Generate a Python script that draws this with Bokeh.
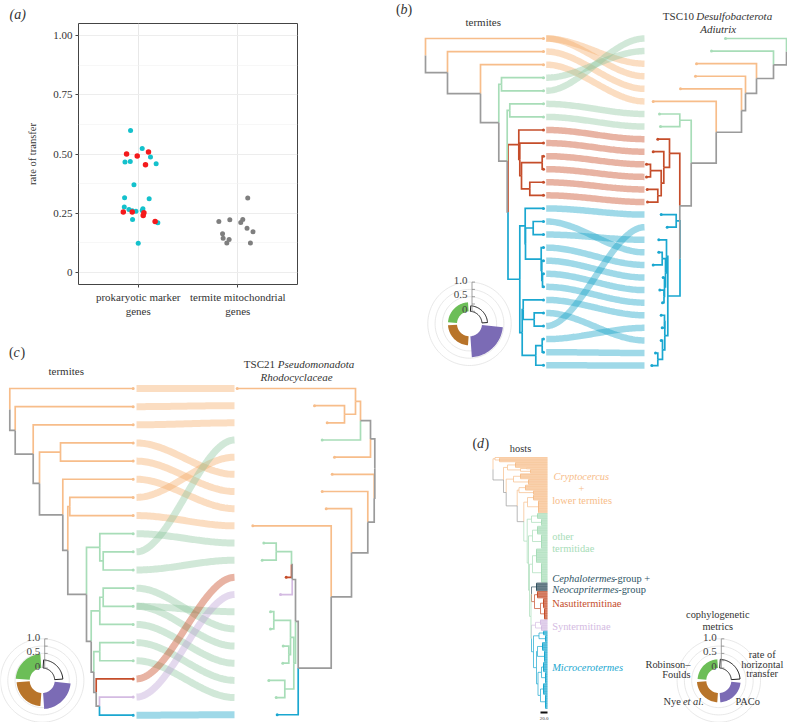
import numpy as np
from bokeh.plotting import figure
from bokeh.layouts import row, column
from bokeh.models import Range1d, FixedTicker, Title
from bokeh.core.properties import value
from bokeh.embed import file_html
from bokeh.resources import INLINE

SERIF = "Liberation Serif"
TREE = {"o": "#F7BD8A", "gr": "#A8DDB8", "r": "#C54D2A", "bl": "#1AA7D0", "g": "#9B9B9B", "p": "#D4BBE2", "dk": "#33505F"}
RIB = {"o": "#F5A964", "gr": "#8CC69D", "r": "#C54119", "bl": "#0FA0C5", "p": "#BBA0D4"}
TXT = "#333333"


def T(x, g):
    return {"x": x, "g": g, "kids": None}


def N(x, g, *kids):
    return {"x": x, "g": g, "kids": list(kids)}


def R(x, g, n, tip=547):
    return N(x, g, *[T(tip, g) for _ in range(2 * n)])


# ---- panel (a) values
genes = ["prokaryotic marker\ngenes", "termite mitochondrial\ngenes"]
cyan_x = [.923, 1.04, 1.123, .867, .92, 1.18, .957, .863, 1.11, .86, .907, .94, .977, 1.047, 1.04, .943, 1.197, 1.0]
cyan_y = [.599, .523, .487, .466, .468, .459, .370, .315, .311, .276, .266, .261, .258, .269, .262, .224, .210, .123]
red_x = [.883, .99, 1.103, 1.073, .85, .94, 1.057, 1.05, 1.17]
red_y = [.500, .492, .508, .455, .255, .255, .252, .241, .215]
grey_x = [2.1, 1.81, 1.92, 2.05, 2.03, 2.093, 2.153, 1.847, 1.853, 1.913, 1.89, 2.127]
grey_y = [.314, .215, .223, .224, .211, .187, .172, .163, .144, .139, .124, .124]

# ---- cophylogenetic metrics: rate, PACo, Nye, Robinson-Foulds
metrics_b = [0.19, 0.72, 0.31, 0.31]
metrics_c = [0.28, 0.55, 0.45, 0.48]
metrics_d = [0.30, 0.32, 0.32, 0.30]

# ---- panel (b) trees
TIP = 543
red_b = N(518.3, "r", T(TIP, "r"), N(519.3, "r", T(TIP, "r"), N(521, "r", N(541.7, "r", T(TIP, "r"), T(TIP, "r")), N(529.3, "r", T(TIP, "r"), T(TIP, "r")))))
blue_f = N(524.7, "bl", T(TIP, "bl"), N(525, "bl", N(532.7, "bl", T(TIP, "bl"), T(TIP, "bl")),
           N(540.7, "bl", T(TIP, "bl"), N(541.3, "bl", T(TIP, "bl"), N(542, "bl", T(TIP, "bl"), T(TIP, "bl"))))))
blue_g = N(521.7, "bl", N(522.7, "bl", T(TIP, "bl"), N(533.7, "bl", T(TIP, "bl"), T(TIP, "bl"))),
           N(535.3, "bl", N(541.7, "bl", T(TIP, "bl"), T(TIP, "bl")), T(TIP, "bl")))
b_core = N(507.5, "g", red_b, N(519.3, "bl", blue_f, blue_g))
b_mid = N(506.7, "g", N(509.3, "gr", T(TIP, "gr"), T(TIP, "gr")), b_core)
b_up = N(498.3, "g", N(501, "gr", T(TIP, "gr"), T(TIP, "gr")), b_mid)
b_left = N(425, "g", T(TIP, "o"), N(447, "g", T(TIP, "o"), N(480, "g", T(TIP, "o"), b_up)))

red_b2 = N(669, "r", T(657.3, "r"), N(663.3, "r", T(652.7, "r"), N(660.7, "r", N(650, "r", T(646, "r"), T(646, "r")), N(657.3, "r", T(646.7, "r"), T(647, "r")))))
blue_y = N(666, "bl", T(658.3, "bl"), N(665, "bl", N(661.7, "bl", T(658.3, "bl"), T(652.7, "bl")),
           N(664, "bl", T(662.7, "bl"), N(663.5, "bl", T(659.3, "bl"), T(662, "bl")))))
blue_z = N(664.3, "bl", N(664, "bl", T(660.7, "bl"), T(661.7, "bl")), N(662, "bl", T(660.7, "bl"), N(657.3, "bl", T(655, "bl"), T(651.3, "bl"))))
b_x = N(679.5, "g", N(675.7, "bl", T(660.7, "bl"), T(666.7, "bl")), N(667.3, "bl", blue_y, blue_z))
b_r1 = N(690.7, "g", N(679.3, "gr", T(659, "gr"), T(660, "gr")), N(679.3, "g", red_b2, b_x))
b_r2 = N(741, "g", T(680, "o"), N(715.7, "g", T(652.7, "o"), b_r1))
b_right = N(786, "g", T(725, "gr"), N(773, "g", T(711, "gr"), N(756, "g", T(696, "o"), N(745, "g", T(695, "o"), b_r2))))
b_links = [(0, 2), (0, 3), (1, 4), (2, 5), (3, 1), (4, 0), (5, 6), (6, 7), (7, 8), (8, 9), (9, 10), (10, 11), (11, 12), (12, 13),
           (13, 14), (14, 17), (15, 16), (16, 18), (17, 19), (18, 20), (19, 21), (20, 22), (21, 24), (22, 15), (23, 23), (24, 25), (25, 26)]

# ---- panel (c) trees
TC = 132.7
c_sub3 = N(93.3, "g", N(99.3, "gr", T(TC, "gr"), T(TC, "gr")), N(95.7, "g", T(TC, "r"), N(99, "g", T(TC, "p"), T(TC, "bl"))))
c_sub2 = N(90.7, "g", N(99.3, "gr", N(102.7, "gr", T(TC, "gr"), T(TC, "gr")), T(TC, "gr")), c_sub3)
c_sub1 = N(86, "g", N(99.3, "gr", T(TC, "gr"), N(102.7, "gr", T(TC, "gr"), T(TC, "gr"))), c_sub2)
c_sub0 = N(62.3, "g", T(TC, "o"), N(67.3, "g", N(69.3, "o", T(TC, "o"), T(TC, "o")), c_sub1))
c_left = N(9.3, "g", T(TC, "o"), N(14.7, "g", T(TC, "o"), N(32.7, "g", T(TC, "o"), N(39, "g", N(60, "o", T(TC, "o"), T(TC, "o")), c_sub0))))
c_upper = N(291.7, "g", N(291, "g", N(275.7, "gr", T(263.3, "gr"), T(261.7, "gr")), T(285.7, "r")), T(280, "p"))
c_green = N(293.3, "gr", N(290, "gr", N(273.3, "gr", T(270, "gr"), T(270, "gr")), N(288.3, "gr", T(282.7, "gr"), T(282.3, "gr"))),
            N(284.3, "gr", T(268.3, "gr"), T(275.7, "gr")))
c_lower = N(297.7, "g", N(295, "g", c_upper, c_green), T(276.7, "bl"))
c_top = N(370, "g", N(360, "g", N(355, "o", T(236.7, "o"), N(344, "o", T(314, "o"), T(326.7, "o"))), T(321.7, "gr")), T(334, "o"))
c_right = N(374.3, "g", c_top, N(373.7, "g", T(331.7, "o"), N(367.3, "g", T(321.7, "o"), N(351, "g", T(325.7, "o"), N(330.7, "g", T(252.3, "o"), c_lower)))))
c_links = [(0, 0), (1, 1), (2, 2), (3, 5), (4, 6), (5, 7), (6, 4), (7, 8), (9, 3), (8, 9), (10, 10), (11, 14), (12, 13), (12, 15),
           (13, 16), (14, 17), (15, 18), (16, 11), (17, 12), (18, 19)]

# ---- panel (d) host tree
d_o1 = N(494.5, "o", T(547, "o"), R(499, "o", 3))
d_o2 = N(507, "o", R(515, "o", 4), N(520, "o", R(526, "o", 1), R(530, "o", 3)))
d_o3 = N(513, "o", R(520, "o", 4), R(528, "o", 4))
d_o4 = N(518.5, "o", R(525, "o", 4), R(533, "o", 3))
d_o5 = N(527, "o", R(533, "o", 4), R(538, "o", 9))
d_g1 = N(531, "gr", R(537, "gr", 4), R(541, "gr", 5))
d_g2 = N(532, "gr", R(537, "gr", 6), R(541, "gr", 10))
d_g3 = N(532, "gr", R(536, "gr", 10), R(541, "gr", 14))
d_dr = N(531, "gr", R(536, "dk", 6), N(534, "r", R(537, "r", 5), N(540, "r", R(543, "r", 7), R(544, "r", 8))))
d_sy = N(535, "p", R(540, "p", 4), R(541, "p", 4))
d_bl = N(533, "bl", N(538.5, "bl", R(543, "bl", 3), R(545, "bl", 5)),
         N(536, "bl", N(537, "bl", R(542, "bl", 6), R(544, "bl", 8)),
           N(537.5, "bl", N(541, "bl", R(543, "bl", 7), R(545, "bl", 8)), N(540, "bl", R(543, "bl", 8), R(545, "bl", 10)))))
d_low = N(526.7, "gr", d_g1, N(528, "gr", d_g2, N(529, "gr", d_g3, N(530.5, "gr", d_dr, N(531, "gr", d_sy, d_bl)))))
d_tree = N(492.5, "g", d_o1, N(503, "g", d_o2, N(505.7, "g", d_o3, N(516.7, "g", d_o4, N(523.3, "g", d_o5, d_low)))))


def tree_lines(tree, y0, dy):
    xs, ys, cs, tips = [], [], [], []
    counter = [0]

    def walk(node):
        if node["kids"] is None:
            y = y0 + counter[0] * dy
            counter[0] += 1
            tips.append((node["x"], y, node["g"]))
            return y
        cy = [walk(k) for k in node["kids"]]
        y = (cy[0] + cy[-1]) / 2
        for k, c in zip(node["kids"], cy):
            xs.append([node["x"], node["x"], k["x"]])
            ys.append([y, c, c])
            cs.append(TREE[k["g"]])
        return y

    walk(tree)
    return xs, ys, cs, tips


def draw_tree(p, tree, y0, dy, lw=1.7, dots=True):
    xs, ys, cs, tips = tree_lines(tree, y0, dy)
    p.multi_line(xs, ys, line_color=cs, line_width=lw, line_join="miter", line_cap="butt")
    if dots:
        p.scatter([t[0] for t in tips], [t[1] for t in tips], size=3, color=[TREE[t[2]] for t in tips], line_width=0)
    return tips


def ribbons(p, links, left_tips, y_left, dy_left, y_right, dy_right, x0, x1, width):
    xs, ys, cs = [], [], []
    for a, b in links:
        ya, yb = y_left + a * dy_left, y_right + b * dy_right
        t = np.linspace(0, 1, 60)
        s = t * t * (3 - 2 * t)
        xs.append(list(x0 + (x1 - x0) * t))
        ys.append(list(ya + (yb - ya) * s))
        cs.append(RIB[left_tips[a][2]])
    p.multi_line(xs, ys, line_color=cs, line_alpha=0.4, line_width=width, line_cap="butt")


def txt(p, x, y, s, size=11, color=TXT, align="left", style="normal"):
    p.text([x], [y], text=[s], text_font=value(SERIF), text_font_size=f"{size}px", text_color=color,
           text_align=align, text_baseline="middle", text_font_style=style)


def donut(p, cx, cy, vals):
    rad = lambda v: 12.5 + 29.2 * v
    th = np.radians(np.linspace(0, 360, 121))
    p.multi_line([list(cx + rad(v) * np.sin(th)) for v in (0.5, 0.75, 1.0)],
                 [list(cy - rad(v) * np.cos(th)) for v in (0.5, 0.75, 1.0)], line_color="#DEDEDE", line_width=0.7)
    spans = [(4, 86), (96, 176), (184, 266), (274, 356)]
    cols = ["#FFFFFF", "#7B6BB5", "#B8742A", "#6CBE57"]
    px, py = [], []
    for (a, b), v in zip(spans, vals):
        t = np.radians(np.linspace(a, b, 30))
        ro, ri = rad(v), rad(0)
        px.append(list(cx + ro * np.sin(t)) + list(cx + ri * np.sin(t[::-1])))
        py.append(list(cy - ro * np.cos(t)) + list(cy - ri * np.cos(t[::-1])))
    p.patches(px[1:], py[1:], fill_color=cols[1:], line_color=None)
    p.patches(px[:1], py[:1], fill_color="#FFFFFF", line_color="#222222", line_width=1)
    ax = cx + 2.5
    p.segment([ax], [cy - rad(0)], [ax], [cy - rad(1)], line_color="#888888", line_width=0.8)
    for v in (0, .25, .5, .75, 1):
        p.segment([ax], [cy - rad(v)], [ax + 3], [cy - rad(v)], line_color="#888888", line_width=0.8)
    for lab, dy in (("1.0", 43.5), ("0.5", 29), ("0", 14.5)):
        txt(p, cx - 2, cy - dy, lab, size=11, color="#444444", align="right")


def panel(x0, x1, y0, y1):
    p = figure(width=x1 - x0, height=y1 - y0, x_range=Range1d(x0, x1), y_range=Range1d(y1, y0),
               output_backend="svg", toolbar_location=None, min_border=0, frame_align=False)
    p.axis.visible = False
    p.grid.visible = False
    p.outline_line_color = None
    return p


# ---------- (a)
pa = figure(width=395, height=335, x_range=Range1d(0.4, 2.6), y_range=Range1d(-0.0507, 1.0507),
            output_backend="svg", toolbar_location=None, frame_align=False,
            min_border_left=78, min_border_right=98, min_border_top=23, min_border_bottom=51)
pa.outline_line_color = "#444444"
pa.outline_line_width = 1
pa.xaxis.ticker = FixedTicker(ticks=[1, 2])
pa.xaxis.major_label_overrides = {1: genes[0], 2: genes[1]}
pa.yaxis.ticker = FixedTicker(ticks=[0, .25, .5, .75, 1], minor_ticks=[.125, .375, .625, .875])
pa.yaxis.major_label_overrides = {0: "0", .25: "0.25", .5: "0.50", .75: "0.75", 1: "1.00"}
pa.yaxis.axis_label = "rate of transfer"
for ax in (pa.xaxis[0], pa.yaxis[0]):
    ax.axis_line_color = None
    ax.major_tick_in = 0
    ax.major_tick_out = 3
    ax.major_tick_line_color = "#444444"
    ax.minor_tick_out = 0
    ax.minor_tick_in = 0
    ax.major_label_text_font = SERIF
    ax.major_label_text_font_size = "11px"
    ax.major_label_text_color = TXT
    ax.major_label_standoff = 3
pa.yaxis.axis_label_text_font = SERIF
pa.yaxis.axis_label_text_font_size = "10.5px"
pa.yaxis.axis_label_text_font_style = "normal"
pa.yaxis.axis_label_text_color = TXT
pa.yaxis.axis_label_standoff = 12
pa.ygrid.grid_line_color = "#EDEDED"
pa.ygrid.grid_line_width = 1
pa.ygrid.minor_grid_line_color = "#F2F2F2"
pa.ygrid.minor_grid_line_width = 0.6
pa.xgrid.grid_line_color = "#E8E8E8"
pa.scatter(grey_x, grey_y, size=5, color="#7F7F7F", line_width=0)
pa.scatter(cyan_x, cyan_y, size=5, color="#14C1CC", line_width=0)
pa.scatter(red_x, red_y, size=5.5, color="#F41A1C", line_width=0)
pa.add_layout(Title(text="(a)", text_font=SERIF, text_font_size="14px", text_font_style="italic",
                    text_color=TXT, align="left", offset=-69, standoff=3, vertical_align="bottom"), "above")

# ---------- (c)
pc = panel(0, 395, 335, 722)
ribbons(pc, c_links, tree_lines(c_left, 388, 18.15)[3], 388, 18.15, 388, 17.17, 136, 234, 7)
draw_tree(pc, c_left, 388, 18.15)
draw_tree(pc, c_right, 388, 17.17)
donut(pc, 41.7, 680, metrics_c)
for x, s, st in [(8.5, "(", "normal"), (13, "c", "italic"), (20, ")", "normal")]:
    txt(pc, x, 352, s, size=14, style=st)
txt(pc, 65.7, 370, "termites", align="center")
txt(pc, 243.3, 363.3, "TSC21 ")
txt(pc, 277.3, 363.3, "Pseudomonadota", style="italic")
txt(pc, 296, 376.7, "Rhodocyclaceae", align="center", style="italic")

# ---------- (b)
pb = panel(395, 787, 0, 380)
ribbons(pb, b_links, tree_lines(b_left, 38, 13.07)[3], 38, 13.07, 38, 12.58, 545.7, 644, 6.5)
draw_tree(pb, b_left, 38, 13.07)
draw_tree(pb, b_right, 38, 12.58)
donut(pb, 469, 323.3, metrics_b)
txt(pb, 482.7, 21.7, "termites", align="center")
txt(pb, 662.3, 15, "TSC10 ")
txt(pb, 695.7, 15, "Desulfobacterota", style="italic")
txt(pb, 717.7, 28.3, "Adiutrix", align="center", style="italic")
for x, s, st in [(395.5, "(", "normal"), (400, "b", "italic"), (407, ")", "normal")]:
    txt(pb, x, 9, s, size=14, style=st)

# ---------- (d)
pd_ = panel(395, 787, 380, 722)
for x, s, st in [(472, "(", "normal"), (476.5, "d", "italic"), (484, ")", "normal")]:
    txt(pd_, x, 443, s, size=14, style=st)
n_tips = len(tree_lines(d_tree, 0, 1)[3])
draw_tree(pd_, d_tree, 457, 251 / (n_tips - 1), lw=0.7, dots=False)
pd_.segment([540], [712], [547], [712], line_color="#111111", line_width=2)
txt(pd_, 543.5, 718, "20.0", size=5, align="center")
txt(pd_, 520, 448, "hosts", size=10.4, align="center")
O, G, DK, RD, PU, BL = "#F7BD8A", "#A8DDB8", "#2F5566", "#C54D2A", "#D4BBE2", "#1AA7D0"
S = 10.4
txt(pd_, 553, 475.7, "Cryptocercus", S, color=O, style="italic")
txt(pd_, 581, 488, "+", S, color=O, align="center")
txt(pd_, 551.7, 500, "lower termites", S, color=O)
txt(pd_, 551.7, 535.7, "other", S, color=G)
txt(pd_, 551.7, 548, "termitidae", S, color=G)
txt(pd_, 551.7, 578.3, "Cephalotermes", S, color=DK, style="italic")
txt(pd_, 613.5, 578.3, "-group +", S, color=DK)
txt(pd_, 551.7, 589, "Neocapritermes", S, color=DK, style="italic")
txt(pd_, 617.7, 589, "-group", S, color=DK)
txt(pd_, 551.7, 603, "Nasutitermitinae", S, color=RD)
txt(pd_, 551.7, 625.7, "Syntermitinae", S, color=PU)
txt(pd_, 551.7, 666.7, "Microcerotermes", S, color=BL, style="italic")
donut(pd_, 718.3, 680, metrics_d)
txt(pd_, 717.3, 613.7, "cophylogenetic", S, align="center")
txt(pd_, 717.3, 625.7, "metrics", S, align="center")
txt(pd_, 761.7, 654, "rate of", S, align="center")
txt(pd_, 761.7, 664, "horizontal", S, align="center")
txt(pd_, 761.7, 673.3, "transfer", S, align="center")
txt(pd_, 690, 664, "Robinson–", S, align="right")
txt(pd_, 690, 674, "Foulds", S, align="right")
txt(pd_, 663, 701, "Nye ", S)
txt(pd_, 682.5, 701, "et al.", S, style="italic")
txt(pd_, 735, 701, "PACo", S)

page = row(column(pa, pc, spacing=0), column(pb, pd_, spacing=0), spacing=0)
open("out.html", "w").write(file_html(page, INLINE))
